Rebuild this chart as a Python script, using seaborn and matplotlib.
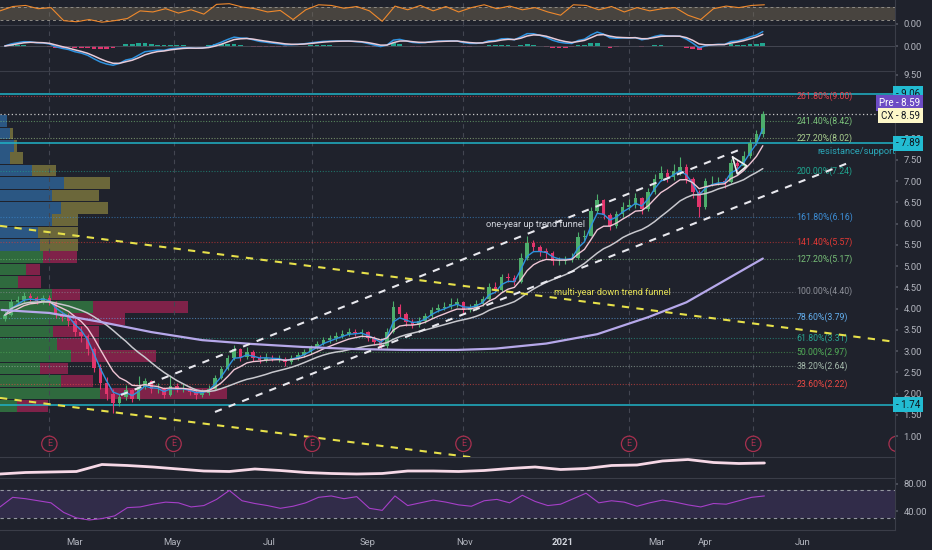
import numpy as np
import pandas as pd
import matplotlib
matplotlib.use('Agg')
import matplotlib.pyplot as plt
import matplotlib.dates as mdates
import matplotlib.transforms as mtrans
import seaborn as sns

# ---- data ----

# price candles, one every 4 days starting 2020-01-17
candle_start = '2020-01-17'
first_open = 3.75
close = [3.85, 4.15, 4.20, 4.30, 4.25, 4.18, 4.25, 4.15, 3.85, 3.80,
         3.72, 3.45, 3.35, 3.05, 2.60, 2.25, 2.00, 1.78, 1.92, 2.08,
         1.88, 2.15, 2.30, 2.10, 2.12, 1.97, 2.18, 2.10, 2.12, 2.05,
         1.97, 2.02, 2.12, 2.38, 2.58, 2.84, 3.05, 2.86, 2.98, 2.85,
         2.80, 2.85, 2.82, 2.82, 2.74, 2.84, 2.90, 2.98, 3.08, 3.18,
         3.26, 3.30, 3.35, 3.40, 3.45, 3.42, 3.44, 3.32, 3.22, 3.12,
         3.45, 4.05, 3.88, 3.68, 3.62, 3.70, 3.82, 3.97, 4.02, 4.05,
         4.12, 4.15, 3.98, 4.02, 4.10, 4.22, 4.50, 4.45, 4.75, 4.72,
         4.63, 5.20, 5.55, 5.45, 5.35, 5.30, 5.12, 5.12, 5.15, 5.20,
         5.68, 5.72, 6.30, 6.55, 6.20, 5.95, 6.22, 6.40, 6.45, 6.60,
         6.35, 6.75, 7.05, 7.20, 7.10, 7.25, 7.34, 7.05, 6.75, 6.40,
         7.00, 7.00, 7.00, 6.98, 7.43, 7.35, 7.60, 7.90, 8.10, 8.59]
high = [3.95, 4.22, 4.30, 4.40, 4.36, 4.30, 4.33, 4.32, 4.18, 3.95,
        3.90, 3.78, 3.60, 3.40, 3.10, 2.70, 2.40, 2.10, 2.00, 2.20,
        2.12, 2.42, 2.38, 2.33, 2.25, 2.15, 2.45, 2.25, 2.22, 2.18,
        2.12, 2.10, 2.20, 2.45, 2.65, 2.92, 3.15, 3.08, 3.10, 3.02,
        2.92, 2.95, 2.92, 2.90, 2.86, 2.92, 2.98, 3.05, 3.15, 3.25,
        3.34, 3.38, 3.45, 3.50, 3.55, 3.52, 3.52, 3.48, 3.36, 3.28,
        3.55, 4.18, 4.10, 3.92, 3.75, 3.80, 3.90, 4.05, 4.12, 4.15,
        4.24, 4.25, 4.18, 4.10, 4.20, 4.30, 4.60, 4.62, 4.82, 4.85,
        4.80, 5.30, 5.72, 5.62, 5.50, 5.42, 5.35, 5.22, 5.24, 5.30,
        5.80, 5.85, 6.40, 6.70, 6.58, 6.25, 6.30, 6.50, 6.58, 6.72,
        6.64, 6.85, 7.18, 7.35, 7.28, 7.40, 7.58, 7.40, 7.10, 6.80,
        7.08, 7.12, 7.10, 7.08, 7.52, 7.50, 7.70, 8.00, 8.20, 8.65]
low = [3.70, 3.82, 4.08, 4.15, 4.18, 4.10, 4.12, 4.08, 3.78, 3.72,
       3.60, 3.35, 3.22, 2.90, 2.50, 2.10, 1.85, 1.55, 1.70, 1.85,
       1.80, 1.85, 2.10, 2.02, 2.02, 1.90, 1.95, 2.05, 2.04, 1.98,
       1.88, 1.92, 1.98, 2.08, 2.35, 2.55, 2.80, 2.78, 2.82, 2.78,
       2.72, 2.75, 2.76, 2.74, 2.66, 2.70, 2.80, 2.86, 2.94, 3.04,
       3.14, 3.20, 3.25, 3.30, 3.36, 3.35, 3.34, 3.25, 3.14, 3.05,
       3.08, 3.42, 3.80, 3.60, 3.55, 3.58, 3.66, 3.78, 3.92, 3.96,
       4.00, 4.05, 3.88, 3.92, 3.98, 4.06, 4.18, 4.36, 4.40, 4.62,
       4.55, 4.60, 5.15, 5.35, 5.25, 5.20, 5.02, 5.04, 5.06, 5.10,
       5.18, 5.58, 5.70, 6.25, 6.10, 5.85, 5.90, 6.15, 6.32, 6.38,
       6.22, 6.30, 6.70, 7.00, 6.98, 7.02, 7.15, 6.95, 6.60, 6.15,
       6.35, 6.88, 6.90, 6.85, 6.95, 7.25, 7.30, 7.55, 7.85, 8.05]

# 200-day average (needs history before the chart, so read directly)
ma200_dates = ['2020-01-15', '2020-02-14', '2020-03-17', '2020-04-18', '2020-05-20',
               '2020-06-20', '2020-07-22', '2020-08-24', '2020-09-24', '2020-10-27',
               '2020-11-20', '2020-12-22', '2021-01-23', '2021-02-24', '2021-03-20',
               '2021-04-10', '2021-05-07']
ma200 = [3.97, 3.90, 3.69, 3.45, 3.26, 3.17, 3.10, 3.05, 3.03, 3.03,
         3.06, 3.18, 3.40, 3.80, 4.15, 4.60, 5.18]

# oscillators, one value every 8 days from 2020-01-14
osc_start = '2020-01-14'
stoch = [60, 80, 85, 70, 75, 15, 10, 20, 8, 15, 25, 60, 55, 70, 50, 65, 45, 90, 93, 78,
         70, 55, 62, 20, 65, 88, 85, 72, 80, 60, 12, 82, 65, 85, 60, 80, 55, 75, 88, 70,
         82, 65, 75, 55, 40, 88, 85, 65, 80, 55, 75, 60, 70, 75, 40, 20, 70, 82, 75, 85, 88]
rsi = [46, 60, 58, 55, 52, 38, 30, 27, 29, 33, 45, 46, 50, 53, 52, 46, 48, 57, 70, 55,
       51, 48, 44, 47, 52, 60, 62, 58, 61, 44, 41, 62, 48, 52, 56, 53, 49, 47, 55, 57,
       52, 63, 54, 48, 50, 58, 66, 52, 55, 53, 47, 52, 56, 53, 49, 46, 51, 50, 55, 60, 62]

# volume-balance line, one value every 16 days
obv_start = '2020-01-14'
obv = [4, 5.5, 6, 6.5, 13.5, 12.5, 11, 9, 7, 6.5, 9, 7.5, 5.5, 4.5, 4, 4.5,
       7, 7, 6.5, 7.5, 9.5, 11, 8.5, 9.5, 12.5, 13, 17, 18.5, 15.5, 14.5, 15]

# fibonacci levels
fib_pct = ['261.80%', '241.40%', '227.20%', '200.00%', '161.80%', '141.40%', '127.20%',
           '100.00%', '78.60%', '61.80%', '50.00%', '38.20%', '23.60%']
fib_price = [9.00, 8.42, 8.02, 7.24, 6.16, 5.57, 5.17, 4.40, 3.79, 3.31, 2.97, 2.64, 2.22]
fib_color = ['#e8434f', '#7cc47c', '#a9cf8f', '#1fa58f', '#3d8fd8', '#e53935', '#78bf78',
             '#8d9099', '#64b0f0', '#2aa592', '#52ad58', '#a3b8aa', '#ee4a45']

key_levels = [9.06, 7.89, 1.74]
last_price = 8.59

# visible range volume profile, rows bottom to top
vp_low, vp_high = 1.57, 8.56
vp_up = [17, 100, 61, 40, 71, 57, 53, 70, 93, 52, 18, 26,
         43, 40, 38, 52, 61, 52, 64, 32, 10, 14, 10, 7]
vp_down = [31, 127, 32, 28, 85, 42, 46, 55, 95, 28, 23, 14,
           34, 38, 40, 26, 47, 47, 46, 24, 13, 3, 3, 0]
vp_split = 5.36

earnings = ['2020-02-14', '2020-05-02', '2020-07-28', '2020-10-31',
            '2021-02-12', '2021-05-01', '2021-07-30']

# drawn trend lines (date, price)
up_funnel_top = (['2020-03-30', '2021-04-25'], [1.97, 7.78])
up_funnel_bot = (['2020-05-28', '2021-07-01'], [1.57, 7.45])
down_funnel_top = (['2020-01-14', '2021-07-29'], [5.95, 3.22])
down_funnel_bot = (['2020-01-14', '2021-07-29'], [1.90, -0.75])
triangle = (['2021-04-18', '2021-04-27', '2021-04-21', '2021-04-18'], [7.57, 7.36, 7.17, 7.57])

month_ticks = ['2020-03-01', '2020-05-01', '2020-07-01', '2020-09-01', '2020-11-01',
               '2021-01-01', '2021-03-01', '2021-04-01', '2021-06-01']
month_labels = ['Mar', 'May', 'Jul', 'Sep', 'Nov', '2021', 'Mar', 'Apr', 'Jun']

# ---- style ----
bg = '#1f222c'
sep = '#3a3d48'
txt = '#b2b5be'
sns.set_theme(style='dark', rc={'axes.facecolor': bg, 'figure.facecolor': bg,
                                'axes.edgecolor': sep, 'text.color': txt,
                                'xtick.color': txt, 'ytick.color': txt})
plt.rcParams['font.family'] = ['Roboto', 'DejaVu Sans']
narrow = ['Liberation Sans Narrow', 'Roboto', 'DejaVu Sans']
note_size = 6.3

W, H = 932, 550
fig = plt.figure(figsize=(W / 100, H / 100), dpi=100)
plot_w = 895 / W


def panel(top, bot, z=1):
    a = fig.add_axes([0, 1 - bot / H, plot_w, (bot - top) / H], zorder=z)
    a.set_facecolor(bg)
    for s in ['top', 'left']:
        a.spines[s].set_visible(False)
    for s in ['bottom', 'right']:
        a.spines[s].set_color(sep)
        a.spines[s].set_linewidth(0.8)
    a.tick_params(axis='y', left=False, right=True, labelleft=False, labelright=True,
                  labelsize=6.8, length=2, pad=4, color='#50535e', labelcolor=txt)
    a.tick_params(axis='x', bottom=False, labelbottom=False)
    a.grid(False)
    return a


ax_top = panel(0, 25)
ax_macd = panel(26, 71)
ax_vp = fig.add_axes([0, 1 - 457 / H, plot_w, 385 / H], zorder=0)
ax = panel(72, 457, z=2)
ax.patch.set_alpha(0)
ax_obv = panel(458, 478)
ax_rsi = panel(479, 530)

x0 = mdates.date2num(pd.Timestamp('2020-01-14'))
x1 = mdates.date2num(pd.Timestamp('2021-07-29'))
for a in [ax_top, ax_macd, ax, ax_obv, ax_rsi]:
    a.set_xlim(x0, x1)

ylo, yhi = 0.51, 9.57
ax.set_ylim(ylo, yhi)

# ---- volume profile ----
nrow = len(vp_up)
rh = (vp_high - vp_low) / nrow
rc = vp_low + rh * (np.arange(nrow) + 0.5)
upc = np.where(rc > vp_split, '#2b5783', '#2f6a3e')
dnc = np.where(rc > vp_split, '#6b673a', '#7f2249')
ax_vp.barh(rc, vp_up, height=rh * 0.94, color=upc, lw=0)
ax_vp.barh(rc, vp_down, left=vp_up, height=rh * 0.94, color=dnc, lw=0)
tot = np.array(vp_up) + np.array(vp_down)
ax_vp.set_xlim(0, tot.max() / 0.254)
ax_vp.set_ylim(ylo, yhi)
ax_vp.axis('off')

# ---- candles and averages ----
dates = pd.date_range(candle_start, periods=len(close), freq='4D')
xd = mdates.date2num(dates)
c = np.array(close)
o = np.array([first_open] + close[:-1])
col = np.where(c >= o, '#4dae6c', '#e2356c')
ax.vlines(xd, low, high, colors=col, lw=0.8, zorder=5)
ax.bar(xd, c - o, bottom=o, width=2.2, color=col, lw=0, zorder=6)

cs = pd.Series(close, index=dates)
sns.lineplot(x=dates, y=cs.ewm(span=3, adjust=False).mean().values, ax=ax,
             color='#2f93e0', lw=1.0, zorder=7)
sns.lineplot(x=dates, y=cs.ewm(span=7, adjust=False).mean().values, ax=ax,
             color='#f0c6d6', lw=1.0, zorder=7)
sns.lineplot(x=dates, y=cs.rolling(17, min_periods=1).mean().values, ax=ax,
             color='#c8c8ce', lw=1.1, zorder=7)
sns.lineplot(x=pd.to_datetime(ma200_dates), y=ma200, ax=ax,
             color='#b6a8ea', lw=1.6, zorder=7)

# ---- fib levels ----
fib_end = mdates.date2num(pd.Timestamp('2021-05-27'))
fib_txt = mdates.date2num(pd.Timestamp('2021-05-28'))
for p, pc, fc in zip(fib_price, fib_pct, fib_color):
    ax.hlines(p, x0, fib_end, colors=fc, lw=0.8, ls=(0, (1, 1.5)), alpha=0.6, zorder=3)
    ax.text(fib_txt, p, f'{pc}({p:.2f})', color=fc, fontsize=note_size, family=narrow,
            va='center', ha='left', zorder=8)

# key horizontal levels
for p in key_levels:
    ax.axhline(p, color='#1fb3c8', lw=1.1, zorder=4)
ax.axhline(last_price, color='#c8c8c8', lw=0.9, ls=(0, (1, 2)), zorder=4)

# ---- trend lines ----
for d, v, cl in [(up_funnel_top[0], up_funnel_top[1], '#e8e8ee'),
                 (up_funnel_bot[0], up_funnel_bot[1], '#e8e8ee'),
                 (down_funnel_top[0], down_funnel_top[1], '#e6e04a'),
                 (down_funnel_bot[0], down_funnel_bot[1], '#e6e04a')]:
    ax.plot(mdates.date2num(pd.to_datetime(d)), v, color=cl, lw=1.5,
            ls=(0, (3.5, 3.5)), zorder=8)
ax.plot(mdates.date2num(pd.to_datetime(triangle[0])), triangle[1], color='#f0f0f0', lw=1.2, zorder=8)

ax.text(mdates.date2num(pd.Timestamp('2020-11-14')), 5.99, 'one-year up trend funnel',
        color='#d1d4dc', fontsize=note_size + 0.4, family=narrow, va='center', zorder=9)
ax.text(mdates.date2num(pd.Timestamp('2020-12-27')), 4.39, 'multi-year down trend funnel',
        color='#e2de55', fontsize=note_size + 0.4, family=narrow, va='center', zorder=9)
ax.text(mdates.date2num(pd.Timestamp('2021-06-10')), 7.69, 'resistance/support',
        color='#2aa7b8', fontsize=note_size + 0.4, family=narrow, va='center', zorder=9)

# earnings markers
ecol = '#a8304f'
for d in earnings:
    xe = mdates.date2num(pd.Timestamp(d))
    for a in [ax, ax_macd, ax_top]:
        a.axvline(xe, color='#434651', lw=0.8, ls=(0, (4, 4)), zorder=1)
    ax.text(xe, 0.82, 'E', color=ecol, fontsize=6.5, ha='center', va='center', clip_on=True,
            zorder=9, bbox=dict(boxstyle='circle,pad=0.35', fc=bg, ec=ecol, lw=0.9))

# right price scale (9.00 and 8.50 sit under the price boxes)
ptick = [v for v in np.arange(1.0, 9.51, 0.5) if v not in (8.5, 9.0)]
ax.set_yticks(ptick)
ax.set_yticklabels([f'{v:.2f}' for v in ptick])

# price boxes on the right scale
tr = mtrans.blended_transform_factory(fig.transFigure, ax.transData)
bx = 920 / W
for p in key_levels:
    fig.text(bx, p, f'- {p:.2f}', transform=tr, ha='right', va='center', fontsize=7,
             color='#10131a', zorder=10,
             bbox=dict(boxstyle='square,pad=0.28', fc='#22bcd2', ec='none'))
fig.text(bx, last_price + 0.25, 'Pre - 8.59', transform=tr, ha='right', va='center',
         fontsize=7, color='white', zorder=10,
         bbox=dict(boxstyle='square,pad=0.28', fc='#6c4cc4', ec='none'))
fig.text(bx, last_price - 0.05, 'CX - 8.59', transform=tr, ha='right', va='center',
         fontsize=7, color='#131722', zorder=10,
         bbox=dict(boxstyle='square,pad=0.28', fc='#fdf7c8', ec='none'))

# ---- top oscillator ----
od = pd.date_range(osc_start, periods=len(stoch), freq='8D')
ax_top.axhspan(20, 80, color='#7b6f58', alpha=0.45, lw=0)
ax_top.axhline(20, color='#8f8c86', lw=0.7, ls=(0, (3, 3)))
ax_top.axhline(80, color='#8f8c86', lw=0.7, ls=(0, (3, 3)))
sns.lineplot(x=od, y=stoch, ax=ax_top, color='#f0892c', lw=0.8)
ax_top.set_ylim(-5, 110)
ax_top.set_yticks([0])
ax_top.set_yticklabels(['0.00'])

# ---- MACD from the candles ----
fast = cs.ewm(span=4.2, adjust=False).mean()
slow = cs.ewm(span=9.1, adjust=False).mean()
macd = fast - slow
signal = macd.ewm(span=3.1, adjust=False).mean()
hist = (macd - signal).values
ax_macd.axhline(0, color='#4a4d58', lw=0.6)
ax_macd.bar(xd, hist, width=3.0, color=np.where(hist >= 0, '#22a58f', '#e0356f'), lw=0)
sns.lineplot(x=dates, y=macd.values, ax=ax_macd, color='#2f93e0', lw=1.1)
sns.lineplot(x=dates, y=signal.values, ax=ax_macd, color='#e8cbd8', lw=1.1)
mlo = macd.min() * 1.3
ax_macd.set_ylim(mlo, -mlo * 20 / 25)
ax_macd.set_yticks([0])
ax_macd.set_yticklabels(['0.00'])

# ---- volume balance line ----
bd = pd.date_range(obv_start, periods=len(obv), freq='16D')
sns.lineplot(x=bd, y=obv, ax=ax_obv, color='#f6d8e6', lw=2.0)
ax_obv.set_ylim(0, 20)
ax_obv.set_yticks([])

# ---- RSI ----
ax_rsi.axhspan(30, 70, color='#7e57c2', alpha=0.2, lw=0)
ax_rsi.axhline(70, color='#9598a1', lw=0.8, ls=(0, (3, 3)))
ax_rsi.axhline(30, color='#9598a1', lw=0.8, ls=(0, (3, 3)))
sns.lineplot(x=od, y=rsi, ax=ax_rsi, color='#a63fc8', lw=0.8)
ax_rsi.set_ylim(12.4, 86.7)
ax_rsi.set_yticks([40, 80])
ax_rsi.set_yticklabels(['40.00', '80.00'])

# month labels
ax_rsi.set_xticks(mdates.date2num(pd.to_datetime(month_ticks)))
ax_rsi.set_xticklabels(month_labels)
ax_rsi.tick_params(axis='x', bottom=False, labelbottom=True, labelsize=6.8, pad=0, labelcolor=txt)
for lab in ax_rsi.get_xticklabels():
    if lab.get_text() == '2021':
        lab.set_fontweight('bold')
        lab.set_color('#d1d4dc')

for a in [ax_top, ax_macd, ax, ax_obv, ax_rsi]:
    a.set_xlabel('')
    a.set_ylabel('')

fig.savefig('out.png', dpi=100, facecolor=bg)
